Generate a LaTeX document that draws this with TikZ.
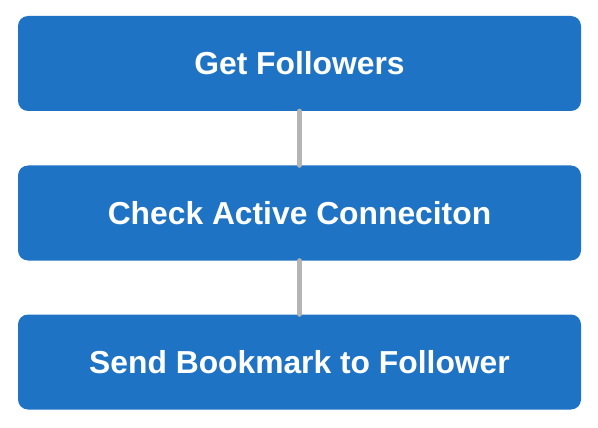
\documentclass[tikz,border=0pt]{standalone}
\usepackage{fontspec}
\setmainfont{Liberation Sans}
\definecolor{stepblue}{RGB}{30,115,197}
\definecolor{linkgray}{RGB}{180,180,180}
\tikzset{
  stepbox/.style={fill=stepblue, rounded corners=10pt, minimum width=563pt, minimum height=95pt,
    text=white, font=\bfseries\fontsize{31.8}{36}\selectfont, inner sep=0pt},
  link/.style={draw=linkgray, line width=5pt, line cap=round}
}
\begin{document}
\begin{tikzpicture}[x=1pt, y=1pt]
  \useasboundingbox (0,0) rectangle (598,-428);
  \foreach \name/\y/\txt in {
    get/-63.5/Get Followers,
    check/-213/Check Active Conneciton,
    send/-362/Send Bookmark to Follower} {
    \node[stepbox] (\name) at (299.5,\y) {\txt};
  }
  \draw[link] (get.south) -- (check.north);
  \draw[link] (check.south) -- (send.north);
\end{tikzpicture}
\end{document}
